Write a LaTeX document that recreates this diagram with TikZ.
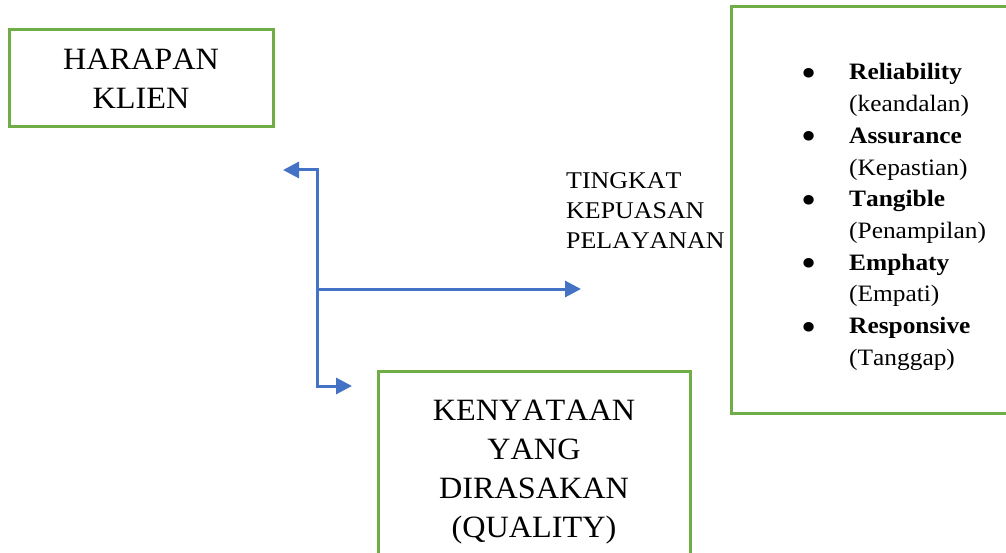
\documentclass[tikz,border=0pt]{standalone}
\usepackage{fontspec}
\setmainfont[Kerning=Off, FakeStretch=1.04]{Liberation Serif}
\newfontfamily\listfont[Kerning=Off, FakeStretch=1.08]{Liberation Serif}
\usetikzlibrary{arrows.meta}
\definecolor{boxgreen}{HTML}{70AD47}
\definecolor{arrowblue}{HTML}{4472C4}
\newcommand{\bigdot}{\raisebox{-6.5pt}{\scalebox{1.7}{\textbullet}}}
\tikzset{
  gbox/.style={draw=boxgreen, line width=3pt, minimum width=#1, inner sep=0pt},
  conn/.style={draw=arrowblue, line width=3pt, arrows={-Triangle[length=16pt,width=16pt]}},
  conn2/.style={draw=arrowblue, line width=3pt, arrows={Triangle[length=16pt,width=16pt]-Triangle[length=16pt,width=16pt]}},
  bigtxt/.style={inner sep=0pt, font=\fontsize{31pt}{39pt}\selectfont},
  midtxt/.style={inner sep=0pt, font=\listfont\fontsize{24pt}{30pt}\selectfont},
}
\begin{document}
\begin{tikzpicture}[x=1pt,y=-1pt]
\useasboundingbox (0,0) rectangle (1006,553);
\clip (0,0) rectangle (1006,553);
% boxes
\node[gbox=264pt, minimum height=97pt] (harapan) at (141,78.5) {};
\node[gbox=300pt, minimum height=406pt] (dims) at (881,210) {};
\node[gbox=312pt, minimum height=210pt] (kenyataan) at (534,476) {};
% texts
\node[bigtxt, anchor=base] (harapantxt) at (141,70) {\begin{tabular}[t]{@{}c@{}}HARAPAN\\KLIEN\end{tabular}};
\node[bigtxt, anchor=base] (kenyataantxt) at (534,420) {\begin{tabular}[t]{@{}c@{}}KENYATAAN\\YANG\\DIRASAKAN\\(QUALITY)\end{tabular}};
\node[midtxt, anchor=base west] (tingkat) at (566,189) {\begin{tabular}[t]{@{}l@{}}TINGKAT\\KEPUASAN\\PELAYANAN\end{tabular}};
\node[inner sep=0pt, anchor=base west, font=\listfont\fontsize{23.5pt}{31.7pt}\selectfont] (list) at (801,80)
 {\begin{tabular}[t]{@{}p{48pt}@{}l@{}}
 \bigdot & \textbf{Reliability}\\
  & (keandalan)\\
 \bigdot & \textbf{Assurance}\\
  & (Kepastian)\\
 \bigdot & \textbf{Tangible}\\
  & (Penampilan)\\
 \bigdot & \textbf{Emphaty}\\
  & (Empati)\\
 \bigdot & \textbf{Responsive}\\
  & (Tanggap)
 \end{tabular}};
% connectors
\coordinate (top) at (317,170);
\coordinate (bot) at (317,386);
\coordinate (mid) at (317,289);
\coordinate (tipL) at (283,170);
\coordinate (tipR) at (581,289);
\coordinate (tipB) at (352,386);
\draw[conn2] (tipL) -- (top) -- (bot) -- (tipB);
\draw[conn] (mid) -- (tipR);
\end{tikzpicture}
\end{document}
